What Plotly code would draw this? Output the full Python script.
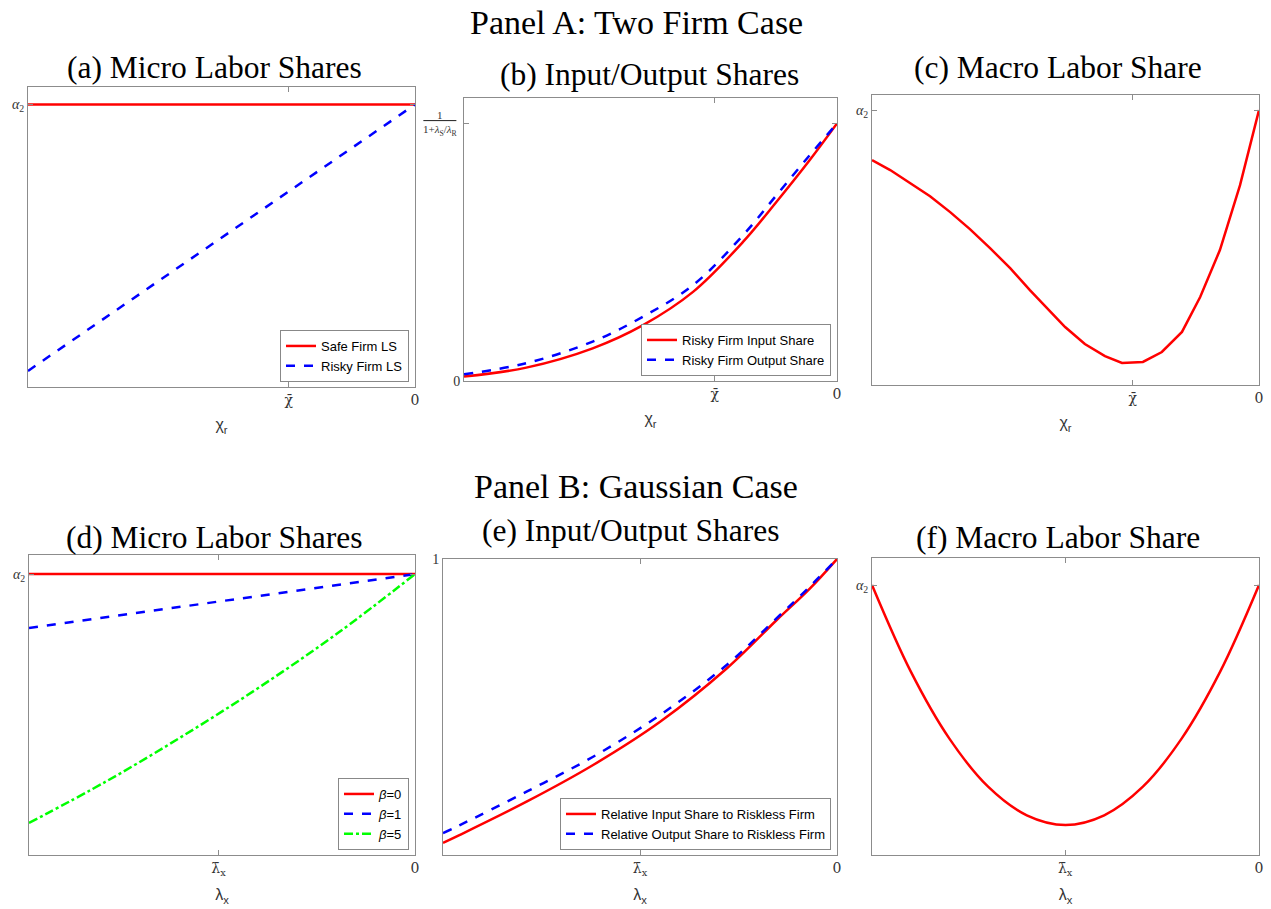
import plotly.graph_objects as go

W, H = 1271, 909

# ---------------- data ----------------
# Panel (a): micro labor shares, two-firm case
x_a = [-1.0, 0.0]
a_safe = [1.0, 1.0]
a_risky = [0.057, 1.0]

# Panel (b): input / output shares of risky firm
x_b = [-1.0, -0.833, -0.655, -0.52, -0.386, -0.252, -0.162, -0.073, 0.0]
b_input = [0.017, 0.052, 0.127, 0.217, 0.346, 0.54, 0.696, 0.858, 1.0]
b_output = [0.026, 0.069, 0.153, 0.250, 0.372, 0.566, 0.722, 0.877, 1.0]

# Panel (c): macro labor share, two-firm case
x_c = [-1.0, -0.953, -0.902, -0.85, -0.798, -0.747, -0.695, -0.643, -0.592, -0.54,
       -0.501, -0.45, -0.398, -0.354, -0.30, -0.251, -0.199, -0.152, -0.101, -0.049, 0.0]
c_macro = [0.818, 0.782, 0.735, 0.687, 0.629, 0.567, 0.498, 0.425, 0.345, 0.269,
           0.211, 0.149, 0.105, 0.080, 0.084, 0.12, 0.193, 0.32, 0.491, 0.727, 1.0]

# Panel (d): micro labor shares, Gaussian case
x_d = [-1.0, -0.8, -0.6, -0.4, -0.2, 0.0]
d_beta0 = [1.0, 1.0, 1.0, 1.0, 1.0, 1.0]
d_beta1 = [0.808, 0.846, 0.885, 0.923, 0.962, 1.0]
d_beta5 = [0.114, 0.262, 0.425, 0.60, 0.79, 1.0]

# Panel (e): relative input / output shares
x_e = [-1.0, -0.957, -0.788, -0.619, -0.449, -0.28, -0.153, -0.069, 0.0]
e_input = [0.041, 0.068, 0.180, 0.304, 0.45, 0.630, 0.794, 0.90, 1.0]
e_output = [0.074, 0.101, 0.214, 0.332, 0.473, 0.642, 0.80, 0.907, 1.0]

# Panel (f): macro labor share, Gaussian case
x_f = [-1.0, -0.9, -0.8, -0.7, -0.6, -0.5, -0.4, -0.3, -0.2, -0.1, 0.0]
f_macro = [1.0, 0.68, 0.431, 0.253, 0.147, 0.111, 0.147, 0.253, 0.431, 0.68, 1.0]

# threshold tick positions
chi_bar = [-0.326, -0.328, -0.326]
lam_bar = [-0.509, -0.5, -0.501]

# tick labels
chi_label = "χ̄"
lam_label = "λ̄<sub>x</sub>"
alpha_label = "<i>α</i><sub>2</sub>"

titles = ["(a) Micro Labor Shares", "(b) Input/Output Shares", "(c) Macro Labor Share",
          "(d) Micro Labor Shares", "(e) Input/Output Shares", "(f) Macro Labor Share"]
panel_titles = ["Panel A: Two Firm Case", "Panel B: Gaussian Case"]

# ---------------- layout helpers ----------------
# pixel boxes (left, top, right, bottom)
boxes = [(28, 87, 415, 387), (464, 98, 837, 381), (872, 95, 1259, 385),
         (29, 555, 415, 855), (443, 559, 837, 855), (872, 558, 1259, 855)]
yranges = [[0, 1.062], [0, 1.099], [0, 1.055], [0, 1.068], [0, 1.0], [0, 1.1]]

RED, BLUE, GREEN = "#ff0000", "#0000ff", "#00ff00"
FRAME = "#8c8c8c"
SERIF = "Liberation Serif, DejaVu Serif, serif"
SANS = "Liberation Sans, Arial, sans-serif"


def xd(l, r):
    return [l / W, r / W]


def yd(t, b):
    return [1 - b / H, 1 - t / H]


fig = go.Figure()


def add(i, x, y, color, dash, name, legend=None, shape="linear"):
    fig.add_trace(go.Scatter(
        x=x, y=y, mode="lines", name=name,
        line=dict(color=color, width=2.5, dash=dash, shape=shape),
        xaxis="x" if i == 0 else f"x{i+1}", yaxis="y" if i == 0 else f"y{i+1}",
        showlegend=legend is not None, legend=legend or "legend",
        hoverinfo="skip"))


add(0, x_a, a_safe, RED, "solid", "Safe Firm LS", "legend")
add(0, x_a, a_risky, BLUE, "dash", "Risky Firm LS", "legend")
add(1, x_b, b_input, RED, "solid", "Risky Firm Input Share", "legend2", "spline")
add(1, x_b, b_output, BLUE, "dash", "Risky Firm Output Share", "legend2", "spline")
add(2, x_c, c_macro, RED, "solid", "Macro LS")
add(3, x_d, d_beta0, RED, "solid", "<i>β</i>=0", "legend3")
add(3, x_d, d_beta1, BLUE, "dash", "<i>β</i>=1", "legend3")
add(3, x_d, d_beta5, GREEN, "dashdot", "<i>β</i>=5", "legend3", "spline")
add(4, x_e, e_input, RED, "solid", "Relative Input Share to Riskless Firm", "legend4", "spline")
add(4, x_e, e_output, BLUE, "dash", "Relative Output Share to Riskless Firm", "legend4", "spline")
add(5, x_f, f_macro, RED, "solid", "Macro LS", None, "spline")

ytickvals = [[1.0], [0.0], [1.0], [1.0], [1.0], [1.0]]
yticktext = [[alpha_label], ["0"], [alpha_label], [alpha_label], ["1"], [alpha_label]]
xticks = [chi_bar[0], chi_bar[1], chi_bar[2], lam_bar[0], lam_bar[1], lam_bar[2]]
xlabels = [chi_label] * 3 + [lam_label] * 3
xtitles = ["χ<sub>r</sub>"] * 3 + ["λ<sub>x</sub>"] * 3

layout = dict(
    width=W, height=H, margin=dict(l=0, r=0, t=0, b=0, autoexpand=False),
    plot_bgcolor="white", paper_bgcolor="white", font=dict(family=SERIF, color="black"),
)

for i, (l, t, r, b) in enumerate(boxes):
    k = "" if i == 0 else str(i + 1)
    layout["xaxis" + k] = dict(
        domain=xd(l, r), anchor="y" + k, range=[-1, 0], automargin=False,
        showline=True, linecolor=FRAME, linewidth=1, mirror="ticks",
        ticks="inside", ticklen=5, tickcolor=FRAME,
        tickmode="array", tickvals=[xticks[i], 0.0], ticktext=[xlabels[i], "0"],
        tickfont=dict(family="DejaVu Serif, serif", size=14, color="#333"),
        showgrid=False, zeroline=False, fixedrange=True,
        title=dict(text=xtitles[i], font=dict(family=SANS, size=16, color="#333"), standoff=12),
    )
    layout["yaxis" + k] = dict(
        domain=yd(t, b), anchor="x" + k, range=yranges[i], automargin=False,
        showline=True, linecolor=FRAME, linewidth=1, mirror="ticks",
        ticks="inside", ticklen=5, tickcolor=FRAME,
        tickmode="array", tickvals=ytickvals[i], ticktext=yticktext[i],
        tickfont=dict(family=SERIF, size=14, color="#333"),
        showgrid=False, zeroline=False, fixedrange=True,
    )
# the fraction tick of panel (b) gets a tick mark; its label is an annotation
layout["yaxis2"]["tickvals"] = [0.0, 1.0]
layout["yaxis2"]["ticktext"] = ["0", " "]

legend_style = dict(bgcolor="white", bordercolor="#888", borderwidth=1,
                    font=dict(family=SANS, size=13, color="black"),
                    xanchor="right", yanchor="bottom", tracegroupgap=0,
                    itemwidth=30, traceorder="normal")
for name, bi in [("legend", 0), ("legend2", 1), ("legend3", 3), ("legend4", 4)]:
    l, t, r, b = boxes[bi]
    layout[name] = dict(legend_style, x=(r - 6) / W, y=1 - (b - 5) / H)

fig.update_layout(**layout)

# subplot titles
title_pos = [(214, 68), (650, 74), (1058, 68), (214, 537), (630, 530), (1058, 537)]
for (cx, cy), txt in zip(title_pos, titles):
    fig.add_annotation(text=txt, x=cx / W, y=1 - cy / H, xref="paper", yref="paper",
                       showarrow=False, font=dict(family=SERIF, size=31.5, color="black"),
                       xanchor="center", yanchor="middle")
for (cx, cy), txt in zip([(636, 22), (636, 486)], panel_titles):
    fig.add_annotation(text=txt, x=cx / W, y=1 - cy / H, xref="paper", yref="paper",
                       showarrow=False, font=dict(family=SERIF, size=34, color="black"),
                       xanchor="center", yanchor="middle")

# fraction tick label for panel (b)
fig.add_annotation(
    text="<u>&nbsp;&nbsp;&nbsp;&nbsp;&nbsp;1&nbsp;&nbsp;&nbsp;&nbsp;&nbsp;</u><br>1+<i>λ</i><sub>S</sub>/<i>λ</i><sub>R</sub>",
    xref="x2 domain", yref="y2", x=-0.012, y=1.0, xanchor="right", yanchor="middle",
    showarrow=False, font=dict(family=SERIF, size=11, color="#333"), align="center")

fig.write_html("out.html", config={"displayModeBar": False},
               post_script="document.body.style.margin='0';document.body.style.overflow='hidden';")
